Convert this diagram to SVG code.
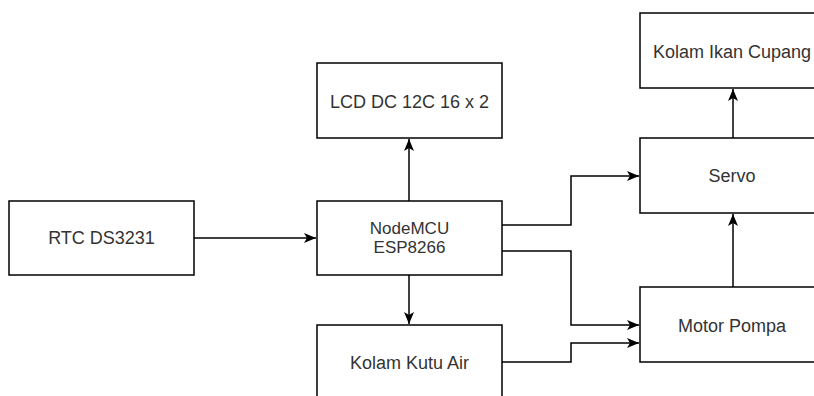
<svg xmlns="http://www.w3.org/2000/svg" width="814" height="396" viewBox="0 0 814 396">
<style>
.box{fill:#fff;stroke:#000;stroke-width:1.5}
.lbl{font-family:"Liberation Sans",Arial,sans-serif;font-size:18px;fill:#333;text-anchor:middle;dominant-baseline:central}
.sm{font-size:17px}
.edge{fill:none;stroke:#000;stroke-width:1.5;marker-end:url(#arr)}
</style>
<defs>
<marker id="arr" markerUnits="userSpaceOnUse" markerWidth="14" markerHeight="12" refX="12" refY="6" orient="auto">
<path d="M0,1 L12,6 L0,11 L3,6 Z" fill="#000"/>
</marker>
</defs>
<rect width="814" height="396" fill="#fff"/>
<g id="connectors">
<path class="edge" d="M194,238 H316"/>
<path class="edge" d="M409,201 V139"/>
<path class="edge" d="M409,275 V324"/>
<path class="edge" d="M502,225 H571 V176 H639"/>
<path class="edge" d="M502,251 H571 V325 H639"/>
<path class="edge" d="M502,362 H571 V343 H639"/>
<path class="edge" d="M733,287 V214"/>
<path class="edge" d="M733,138 V89"/>
</g>
<g id="rtc"><rect class="box" x="9" y="201" width="185" height="74"/><text class="lbl" x="101.5" y="238">RTC DS3231</text></g>
<g id="nodemcu"><rect class="box" x="317" y="201" width="185" height="74"/><text class="lbl sm" x="409.5" y="228">NodeMCU</text><text class="lbl sm" x="409.5" y="247">ESP8266</text></g>
<g id="lcd"><rect class="box" x="317" y="63" width="185" height="75"/><text class="lbl" x="409.5" y="102">LCD DC 12C 16 x 2</text></g>
<g id="kutu"><rect class="box" x="317" y="325" width="185" height="80"/><text class="lbl" x="409.5" y="363">Kolam Kutu Air</text></g>
<g id="cupang"><rect class="box" x="640" y="13" width="185" height="75"/><text class="lbl" x="732" y="52">Kolam Ikan Cupang</text></g>
<g id="servo"><rect class="box" x="640" y="138" width="185" height="75"/><text class="lbl" x="732" y="176">Servo</text></g>
<g id="motor"><rect class="box" x="640" y="287" width="185" height="75"/><text class="lbl" x="732" y="326">Motor Pompa</text></g>
</svg>
